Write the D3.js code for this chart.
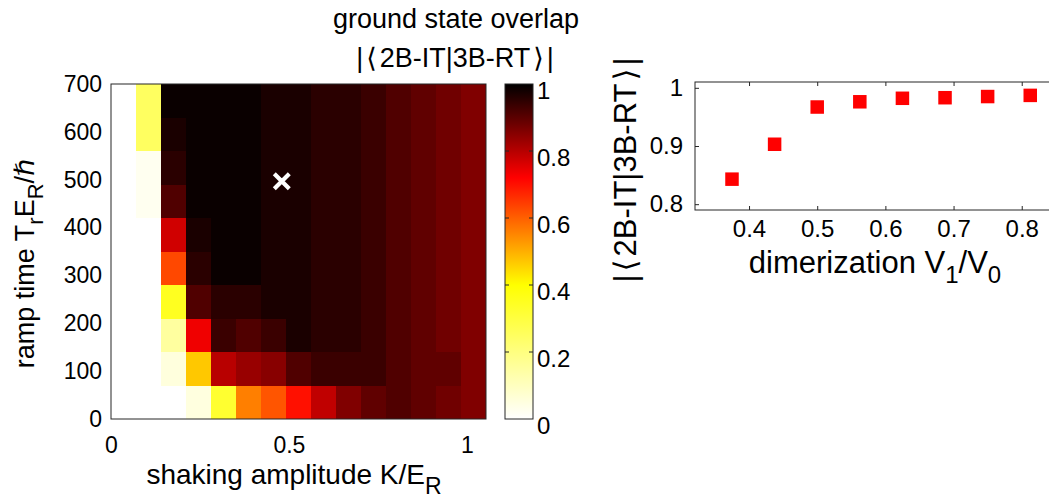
<!DOCTYPE html>
<html>
<head>
<meta charset="utf-8">
<script src="https://cdn.jsdelivr.net/npm/d3@7"></script>
<style>
  html, body { margin: 0; padding: 0; background: #fff; }
  svg { display: block; }
  text { font-family: "Liberation Sans", Arial, "DejaVu Sans", sans-serif; fill: #000; }
</style>
</head>
<body>
<svg id="fig" width="1049" height="503"></svg>
<script>
// Shaking amplitude K/E_R (cell centres) and ramp time T_r E_R/hbar (cell centres)
const shakingK = [0.035, 0.105, 0.176, 0.246, 0.316, 0.387, 0.457, 0.527, 0.598, 0.668, 0.738, 0.809, 0.879, 0.949, 1.019];
const rampT = [35, 105, 175, 245, 315, 385, 455, 525, 595, 665];

// Ground state overlap |<2B-IT|3B-RT>|, one row per ramp time (bottom to top)
const overlapRows = [
  [0, 0, 0,     0.05,  0.325, 0.56,  0.613, 0.70,  0.789, 0.859, 0.895, 0.912, 0.895, 0.877, 0.859],
  [0, 0, 0.053, 0.469, 0.798, 0.833, 0.851, 0.912, 0.936, 0.936, 0.936, 0.912, 0.895, 0.895, 0.859],
  [0, 0, 0.15,  0.736, 0.936, 0.912, 0.936, 0.971, 0.954, 0.954, 0.936, 0.912, 0.895, 0.877, 0.859],
  [0, 0, 0.35,  0.912, 0.954, 0.954, 0.971, 0.971, 0.954, 0.954, 0.936, 0.912, 0.895, 0.877, 0.859],
  [0, 0, 0.63,  0.954, 0.989, 0.989, 0.971, 0.971, 0.954, 0.954, 0.936, 0.912, 0.895, 0.877, 0.859],
  [0, 0, 0.772, 0.971, 0.989, 0.989, 0.971, 0.971, 0.954, 0.954, 0.936, 0.912, 0.895, 0.877, 0.859],
  [0, 0.024, 0.912, 0.989, 0.989, 0.989, 0.971, 0.971, 0.954, 0.954, 0.936, 0.912, 0.895, 0.877, 0.859],
  [0, 0.024, 0.954, 0.989, 0.989, 0.989, 0.971, 0.971, 0.954, 0.954, 0.936, 0.912, 0.895, 0.877, 0.859],
  [0, 0.25,  0.971, 0.989, 0.989, 0.989, 0.971, 0.971, 0.954, 0.954, 0.936, 0.912, 0.895, 0.877, 0.859],
  [0, 0.25,  0.989, 0.989, 0.989, 0.989, 0.971, 0.971, 0.954, 0.954, 0.936, 0.912, 0.895, 0.877, 0.859]
];

// Highlighted working point
const markK = [0.48];
const markT = [497];

// Tick labels
const heatXTicks = [0, 0.5, 1];
const heatYTicks = [0, 100, 200, 300, 400, 500, 600, 700];
const barTicks = [0, 0.2, 0.4, 0.6, 0.8, 1];

// Overlap versus dimerization V1/V0
const dimerization = [0.375, 0.4375, 0.5, 0.5625, 0.625, 0.6875, 0.75, 0.8125];
const overlapDimer = [0.843, 0.903, 0.967, 0.976, 0.982, 0.983, 0.985, 0.987];
const dimXTicks = [0.4, 0.5, 0.6, 0.7, 0.8];
const dimYTicks = [0.8, 0.9, 1];

const svg = d3.select("#fig");
const axisColor = "#262626";
const fmtTick = d => (d === 0 ? "0" : d === 1 ? "1" : d3.format(".1f")(d));

// reversed "hot" colour map
const color = d3.scaleLinear()
  .domain([0, 0.4, 0.72, 1])
  .range(["#ffffff", "#ffff00", "#ff0000", "#000000"])
  .interpolate(d3.interpolateRgb)
  .clamp(true);

// ---------- heat map ----------
const hm = { left: 111, right: 486, top: 84, bottom: 419 };
const dK = shakingK[1] - shakingK[0];
const dT = rampT[1] - rampT[0];
const x = d3.scaleLinear().domain([0, shakingK[shakingK.length - 1] + dK / 2]).range([hm.left, hm.right]);
const y = d3.scaleLinear().domain([0, rampT[rampT.length - 1] + dT / 2]).range([hm.bottom, hm.top]);

const cells = [];
overlapRows.forEach((row, i) => row.forEach((v, j) => cells.push({ k: shakingK[j], t: rampT[i], v })));

const gHeat = svg.append("g");
gHeat.selectAll("rect.cell").data(cells).join("rect")
  .attr("class", "cell")
  .attr("x", d => x(d.k - dK / 2))
  .attr("y", d => y(d.t + dT / 2))
  .attr("width", d => x(d.k + dK / 2) - x(d.k - dK / 2) + 0.4)
  .attr("height", d => y(d.t - dT / 2) - y(d.t + dT / 2) + 0.4)
  .attr("fill", d => color(d.v))
  .attr("shape-rendering", "crispEdges");

gHeat.append("rect")
  .attr("x", hm.left).attr("y", hm.top)
  .attr("width", hm.right - hm.left).attr("height", hm.bottom - hm.top)
  .attr("fill", "none").attr("stroke", axisColor).attr("stroke-width", 1);

// white cross
const cs = 7.5;
markK.forEach((k, i) => {
  const cx = x(k), cy = y(markT[i]);
  gHeat.append("path")
    .attr("d", `M${cx - cs},${cy - cs}L${cx + cs},${cy + cs}M${cx - cs},${cy + cs}L${cx + cs},${cy - cs}`)
    .attr("stroke", "#fff").attr("stroke-width", 4.2).attr("fill", "none");
});

// axes
const xAxisHeat = d3.axisBottom(x).tickValues(heatXTicks).tickSize(0).tickPadding(18).tickFormat(fmtTick);
gHeat.append("g").attr("transform", `translate(0,${hm.bottom})`).call(xAxisHeat)
  .call(g => g.select(".domain").remove())
  .selectAll("text").attr("font-size", 23).attr("font-family", null);

const yAxisHeat = d3.axisLeft(y).tickValues(heatYTicks).tickSize(0).tickPadding(9);
gHeat.append("g").attr("transform", `translate(${hm.left},0)`).call(yAxisHeat)
  .call(g => g.select(".domain").remove())
  .selectAll("text").attr("font-size", 23).attr("font-family", null);

// x label
const xl = gHeat.append("text")
  .attr("x", 294).attr("y", 484)
  .attr("text-anchor", "middle").attr("font-size", 28);
xl.append("tspan").text("shaking amplitude K/E");
xl.append("tspan").attr("dy", 10).attr("font-size", 23).text("R");

// y label
const yl = gHeat.append("text")
  .attr("transform", `translate(34,${(hm.top + hm.bottom) / 2 + 12}) rotate(-90)`)
  .attr("text-anchor", "middle").attr("font-size", 27);
yl.append("tspan").text("ramp time T");
yl.append("tspan").attr("dy", 9).attr("font-size", 22).text("r");
yl.append("tspan").attr("dy", -9).text("E");
yl.append("tspan").attr("dy", 9).attr("font-size", 22).text("R");
yl.append("tspan").attr("dy", -9).text("/\u210F");

// ---------- colour bar ----------
const cb = { left: 505, right: 533, top: 84, bottom: 419 };
const cy = d3.scaleLinear().domain([0, 1]).range([cb.bottom, cb.top]);
const defs = svg.append("defs");
const grad = defs.append("linearGradient").attr("id", "cbar")
  .attr("x1", 0).attr("y1", 1).attr("x2", 0).attr("y2", 0);
d3.range(0, 1.0001, 0.02).forEach(v => {
  grad.append("stop").attr("offset", v).attr("stop-color", color(v));
});
svg.append("rect")
  .attr("x", cb.left).attr("y", cb.top)
  .attr("width", cb.right - cb.left).attr("height", cb.bottom - cb.top)
  .attr("fill", "url(#cbar)").attr("stroke", axisColor).attr("stroke-width", 1);

const gBar = svg.append("g");
barTicks.filter(v => v > 0 && v < 1).forEach(v => {
  gBar.append("line").attr("x1", cb.left).attr("x2", cb.left + 4)
    .attr("y1", cy(v)).attr("y2", cy(v)).attr("stroke", axisColor);
  gBar.append("line").attr("x1", cb.right - 4).attr("x2", cb.right)
    .attr("y1", cy(v)).attr("y2", cy(v)).attr("stroke", axisColor);
});
gBar.selectAll("text").data(barTicks).join("text")
  .attr("x", cb.right + 4).attr("y", d => cy(d) + 6)
  .attr("dominant-baseline", "central")
  .attr("font-size", 24)
  .text(fmtTick);

// title
const title = svg.append("g");
title.append("text").attr("x", 456).attr("y", 28).attr("text-anchor", "middle")
  .attr("font-size", 27).text("ground state overlap");
const t2 = title.append("text").attr("x", 455).attr("y", 67).attr("text-anchor", "middle")
  .attr("font-size", 27);
t2.append("tspan").text("|");
t2.append("tspan").attr("dx", 3).text("\u27E8");
t2.append("tspan").attr("dx", 3).text("2B-IT|3B-RT");
t2.append("tspan").attr("dx", 3).text("\u27E9");
t2.append("tspan").attr("dx", 3).text("|");

// ---------- overlap vs dimerization ----------
const sp = { left: 695, right: 1049, top: 82, bottom: 210 };
const sx = d3.scaleLinear().domain([0.32, 0.84]).range([694.5, 1049]);
const sy = d3.scaleLinear().domain([0.79, 1.01]).range([sp.bottom, sp.top]);
const gSc = svg.append("g");

gSc.append("rect")
  .attr("x", sp.left).attr("y", sp.top)
  .attr("width", sp.right - sp.left + 2).attr("height", sp.bottom - sp.top)
  .attr("fill", "none").attr("stroke", axisColor).attr("stroke-width", 1);

const sxAxis = d3.axisBottom(sx).tickValues(dimXTicks).tickSize(-4).tickPadding(10).tickFormat(fmtTick);
gSc.append("g").attr("transform", `translate(0,${sp.bottom})`).call(sxAxis)
  .call(g => g.select(".domain").remove())
  .call(g => g.selectAll("line").attr("stroke", axisColor))
  .selectAll("text").attr("font-size", 24).attr("font-family", null);

// top ticks
gSc.append("g").attr("transform", `translate(0,${sp.top})`)
  .call(d3.axisTop(sx).tickValues(dimXTicks).tickSize(-4).tickFormat(""))
  .call(g => g.select(".domain").remove())
  .call(g => g.selectAll("line").attr("stroke", axisColor));

const syAxis = d3.axisLeft(sy).tickValues(dimYTicks).tickSize(-4).tickPadding(12).tickFormat(fmtTick);
gSc.append("g").attr("transform", `translate(${sp.left},0)`).call(syAxis)
  .call(g => g.select(".domain").remove())
  .call(g => g.selectAll("line").attr("stroke", axisColor))
  .selectAll("text").attr("font-size", 24).attr("font-family", null);

const ms = 13.5;
gSc.selectAll("rect.pt").data(dimerization.map((d, i) => ({ d, v: overlapDimer[i] }))).join("rect")
  .attr("class", "pt")
  .attr("x", p => sx(p.d) - ms / 2).attr("y", p => sy(p.v) - ms / 2)
  .attr("width", ms).attr("height", ms)
  .attr("fill", "#ff0000");

const sxl = gSc.append("text")
  .attr("x", 875).attr("y", 273).attr("text-anchor", "middle").attr("font-size", 31);
sxl.append("tspan").text("dimerization V");
sxl.append("tspan").attr("dy", 10).attr("font-size", 24).text("1");
sxl.append("tspan").attr("dy", -10).text("/V");
sxl.append("tspan").attr("dy", 10).attr("font-size", 24).text("0");

const syl = gSc.append("text")
  .attr("transform", `translate(636,170) rotate(-90)`)
  .attr("text-anchor", "middle").attr("font-size", 31);
syl.append("tspan").text("|");
syl.append("tspan").attr("dx", 3).text("\u27E8");
syl.append("tspan").attr("dx", 3).text("2B-IT|3B-RT");
syl.append("tspan").attr("dx", 3).text("\u27E9");
syl.append("tspan").attr("dx", 3).text("|");
</script>
</body>
</html>
